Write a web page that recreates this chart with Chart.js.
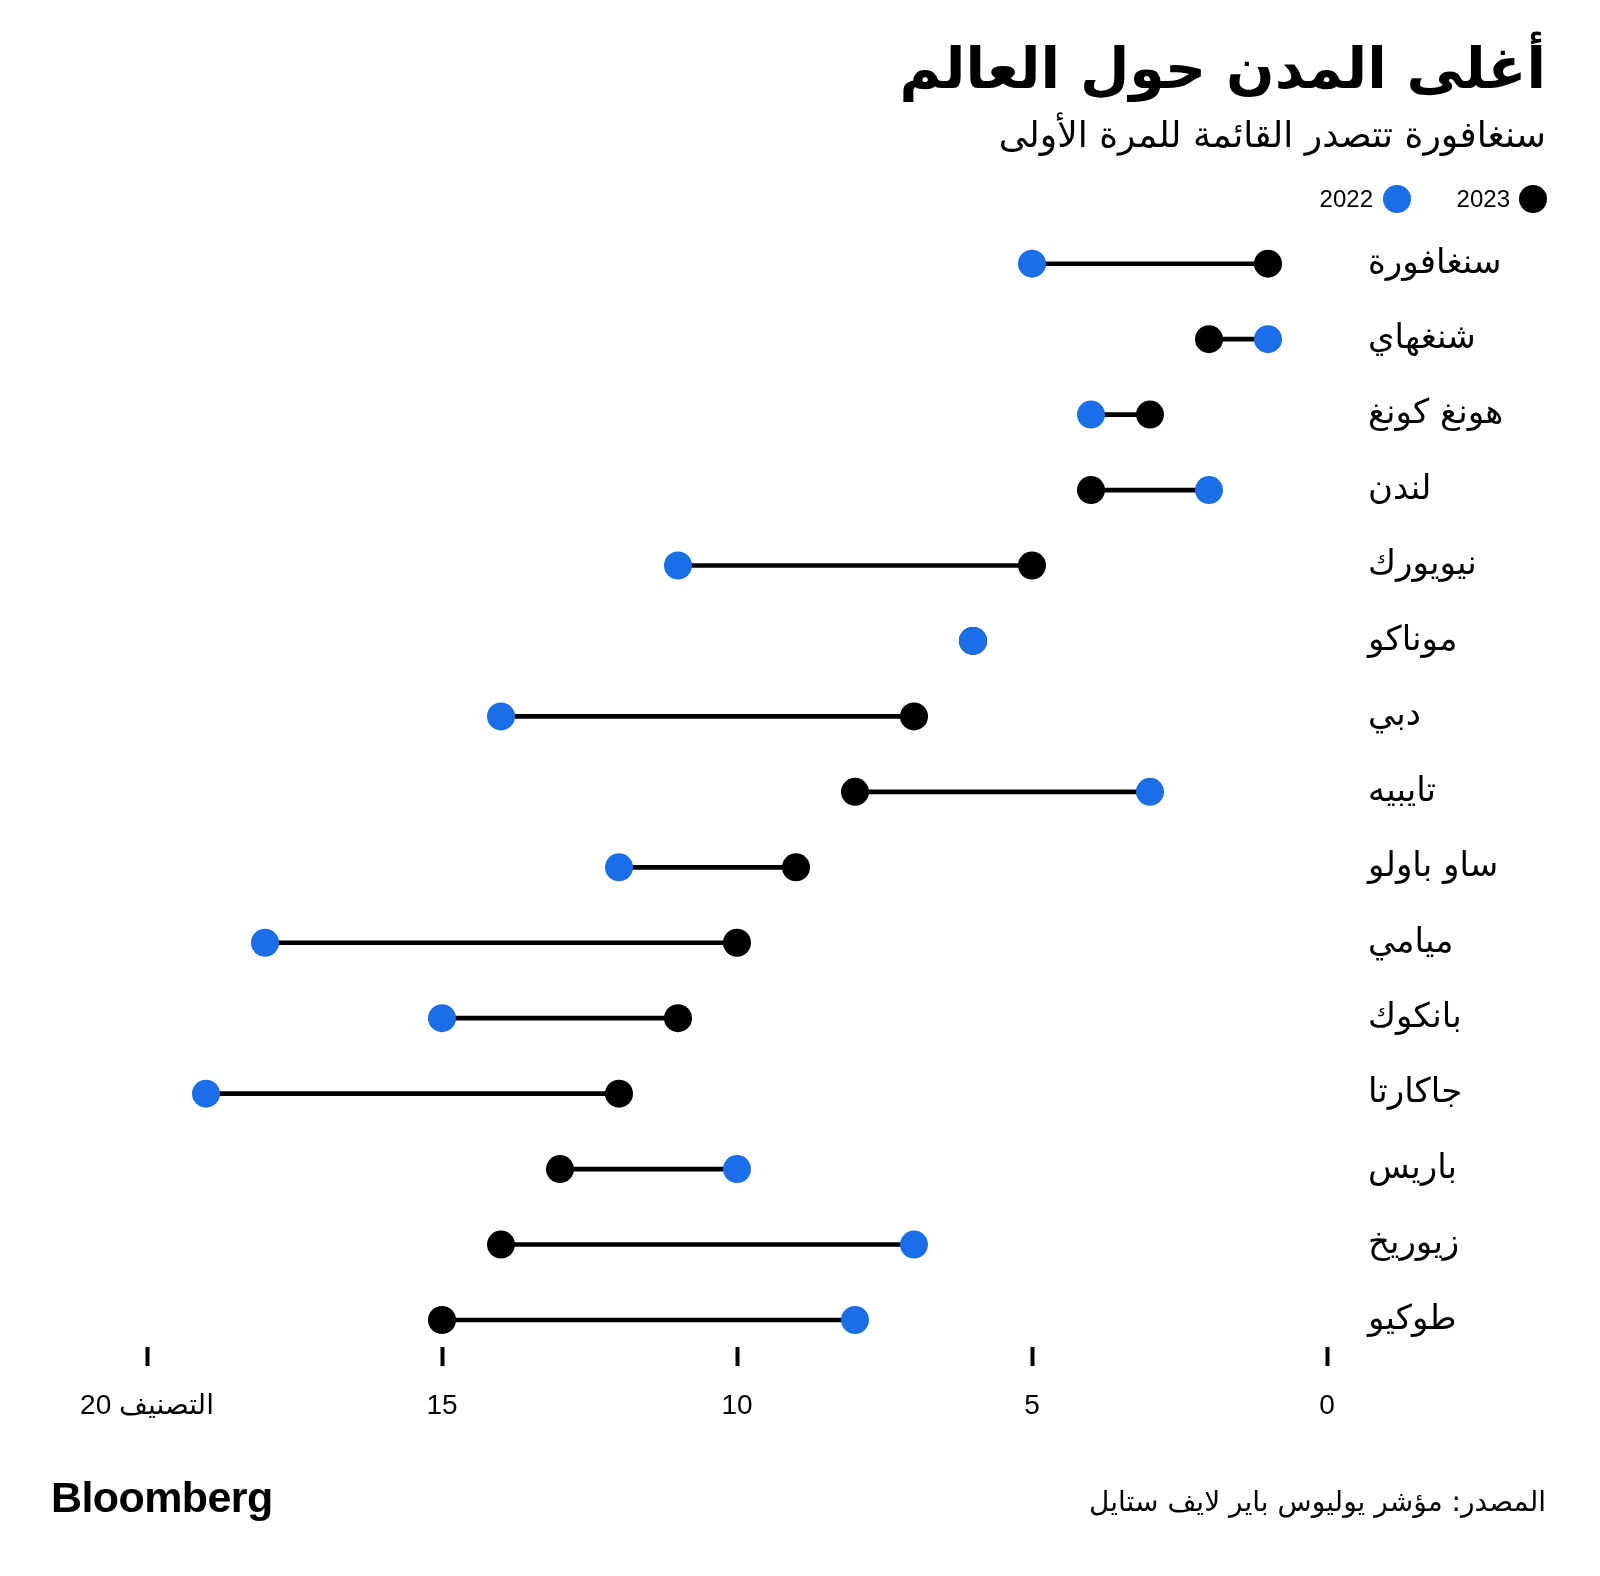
<!DOCTYPE html>
<html>
<head>
<meta charset="utf-8">
<script src="https://cdn.jsdelivr.net/npm/chart.js@4.4.1/dist/chart.umd.min.js"></script>
<style>
html,body{margin:0;padding:0;background:#fff;}
#wrap{position:relative;width:1600px;height:1576px;overflow:hidden;}
#c{position:absolute;left:0;top:0;}
.t{position:absolute;white-space:nowrap;color:#000;z-index:2;}
#title{right:54px;top:28px;font-family:"DejaVu Sans";font-weight:bold;font-size:57px;line-height:80px;direction:rtl;}
#subtitle{right:54px;top:110px;font-family:"DejaVu Sans";font-size:36px;line-height:50px;direction:rtl;}
.leg{position:absolute;z-index:2;top:185px;height:28px;}
.dot{position:absolute;width:28px;height:28px;border-radius:50%;top:0;}
.lt{position:absolute;top:0;line-height:28px;font-family:"Liberation Sans";font-size:24px;color:#000;white-space:nowrap;}
#brand{left:51px;top:1474px;font-family:"Liberation Sans";font-weight:bold;font-size:43px;line-height:46px;letter-spacing:-0.6px;}
#source{right:54px;top:1482px;font-family:"DejaVu Sans";font-size:28px;line-height:40px;direction:rtl;}
</style>
</head>
<body>
<div id="wrap">
<canvas id="c" width="1600" height="1576"></canvas>
<div id="title" class="t">أغلى المدن حول العالم</div>
<div id="subtitle" class="t">سنغافورة تتصدر القائمة للمرة الأولى</div>
<div id="legend"></div>
<div id="brand" class="t">Bloomberg</div>
<div id="source" class="t">المصدر: مؤشر يوليوس باير لايف ستايل</div>
</div>
<script>
// ---- data ----
const cities = ['سنغافورة','شنغهاي','هونغ كونغ','لندن','نيويورك','موناكو','دبي','تايبيه','ساو باولو','ميامي','بانكوك','جاكارتا','باريس','زيوريخ','طوكيو'];
const rank2023 = [1,2,3,4,5,6,7,8,9,10,11,12,13,14,15];
const rank2022 = [5,1,4,2,11,6,14,3,12,18,15,19,10,7,8];
const seriesNames = ['2023','2022'];
const xTickValues = [0,5,10,15,20];
const xTickLabels = ['0','5','10','15','20 التصنيف'];

const colors = {y2023:'#000000', y2022:'#1a6fe8'};

// legend (HTML)
const legend = document.getElementById('legend');
const legItems = [
  {name: seriesNames[0], color: colors.y2023, dotX: 1519, textRight: 1510},
  {name: seriesNames[1], color: colors.y2022, dotX: 1383, textRight: 1373}
];
legItems.forEach(it => {
  const d = document.createElement('div'); d.className='leg'; d.style.left='0'; d.style.width='1600px';
  const dot = document.createElement('div'); dot.className='dot'; dot.style.left=it.dotX+'px'; dot.style.background=it.color;
  const tx = document.createElement('div'); tx.className='lt'; tx.style.right=(1600-it.textRight)+'px'; tx.textContent=it.name;
  d.appendChild(dot); d.appendChild(tx); legend.appendChild(d);
});

const ctx = document.getElementById('c').getContext('2d');
new Chart(ctx, {
  type: 'scatter',
  data: {
    datasets: [
      {
        type: 'bar',
        indexAxis: 'y',
        data: cities.map((c,i) => ({y: i, x: [rank2023[i], rank2022[i]]})),
        backgroundColor: '#000',
        borderWidth: 0,
        barThickness: 4,
        order: 3
      },
      {
        label: seriesNames[0],
        data: cities.map((c,i) => ({x: rank2023[i], y: i})),
        pointRadius: 14, pointHoverRadius: 14,
        pointBackgroundColor: colors.y2023, backgroundColor: colors.y2023,
        pointBorderWidth: 0, borderWidth: 0,
        showLine: false,
        order: 2
      },
      {
        label: seriesNames[1],
        data: cities.map((c,i) => ({x: rank2022[i], y: i})),
        pointRadius: 14, pointHoverRadius: 14,
        pointBackgroundColor: colors.y2022, backgroundColor: colors.y2022,
        pointBorderWidth: 0, borderWidth: 0,
        showLine: false,
        order: 1
      }
    ]
  },
  options: {
    responsive: false,
    animation: false,
    events: [],
    layout: {padding: {left: 147, right: 0, top: 226, bottom: 0}},
    plugins: {legend: {display: false}, tooltip: {enabled: false}},
    scales: {
      x: {
        type: 'linear',
        min: 0, max: 20,
        reverse: true,
        offset: false,
        afterBuildTicks: (axis) => { axis.ticks = xTickValues.map(v => ({value: v})); },
        afterFit: (axis) => { axis.height = 229; },
        ticks: {
          callback: (v) => xTickLabels[xTickValues.indexOf(v)],
          font: {family: '"Liberation Sans", "DejaVu Sans"', size: 28},
          color: '#000',
          padding: 23,
          maxRotation: 0,
          autoSkip: false
        },
        grid: {display: true, offset: false, drawOnChartArea: false, drawTicks: true, tickLength: 19, tickWidth: 4, tickColor: '#000'},
        border: {display: false}
      },
      y: {
        type: 'linear',
        position: 'right',
        reverse: true,
        offset: false,
        min: -0.5, max: 14.358,
        afterBuildTicks: (axis) => { axis.ticks = cities.map((c,i) => ({value: i})); },
        afterFit: (axis) => { axis.width = 273; },
        ticks: {
          callback: (v) => cities[v],
          font: {family: '"DejaVu Sans"', size: 34},
          color: '#000',
          padding: 33,
          autoSkip: false
        },
        grid: {display: false, offset: false},
        border: {display: false}
      }
    }
  }
});
</script>
</body>
</html>
